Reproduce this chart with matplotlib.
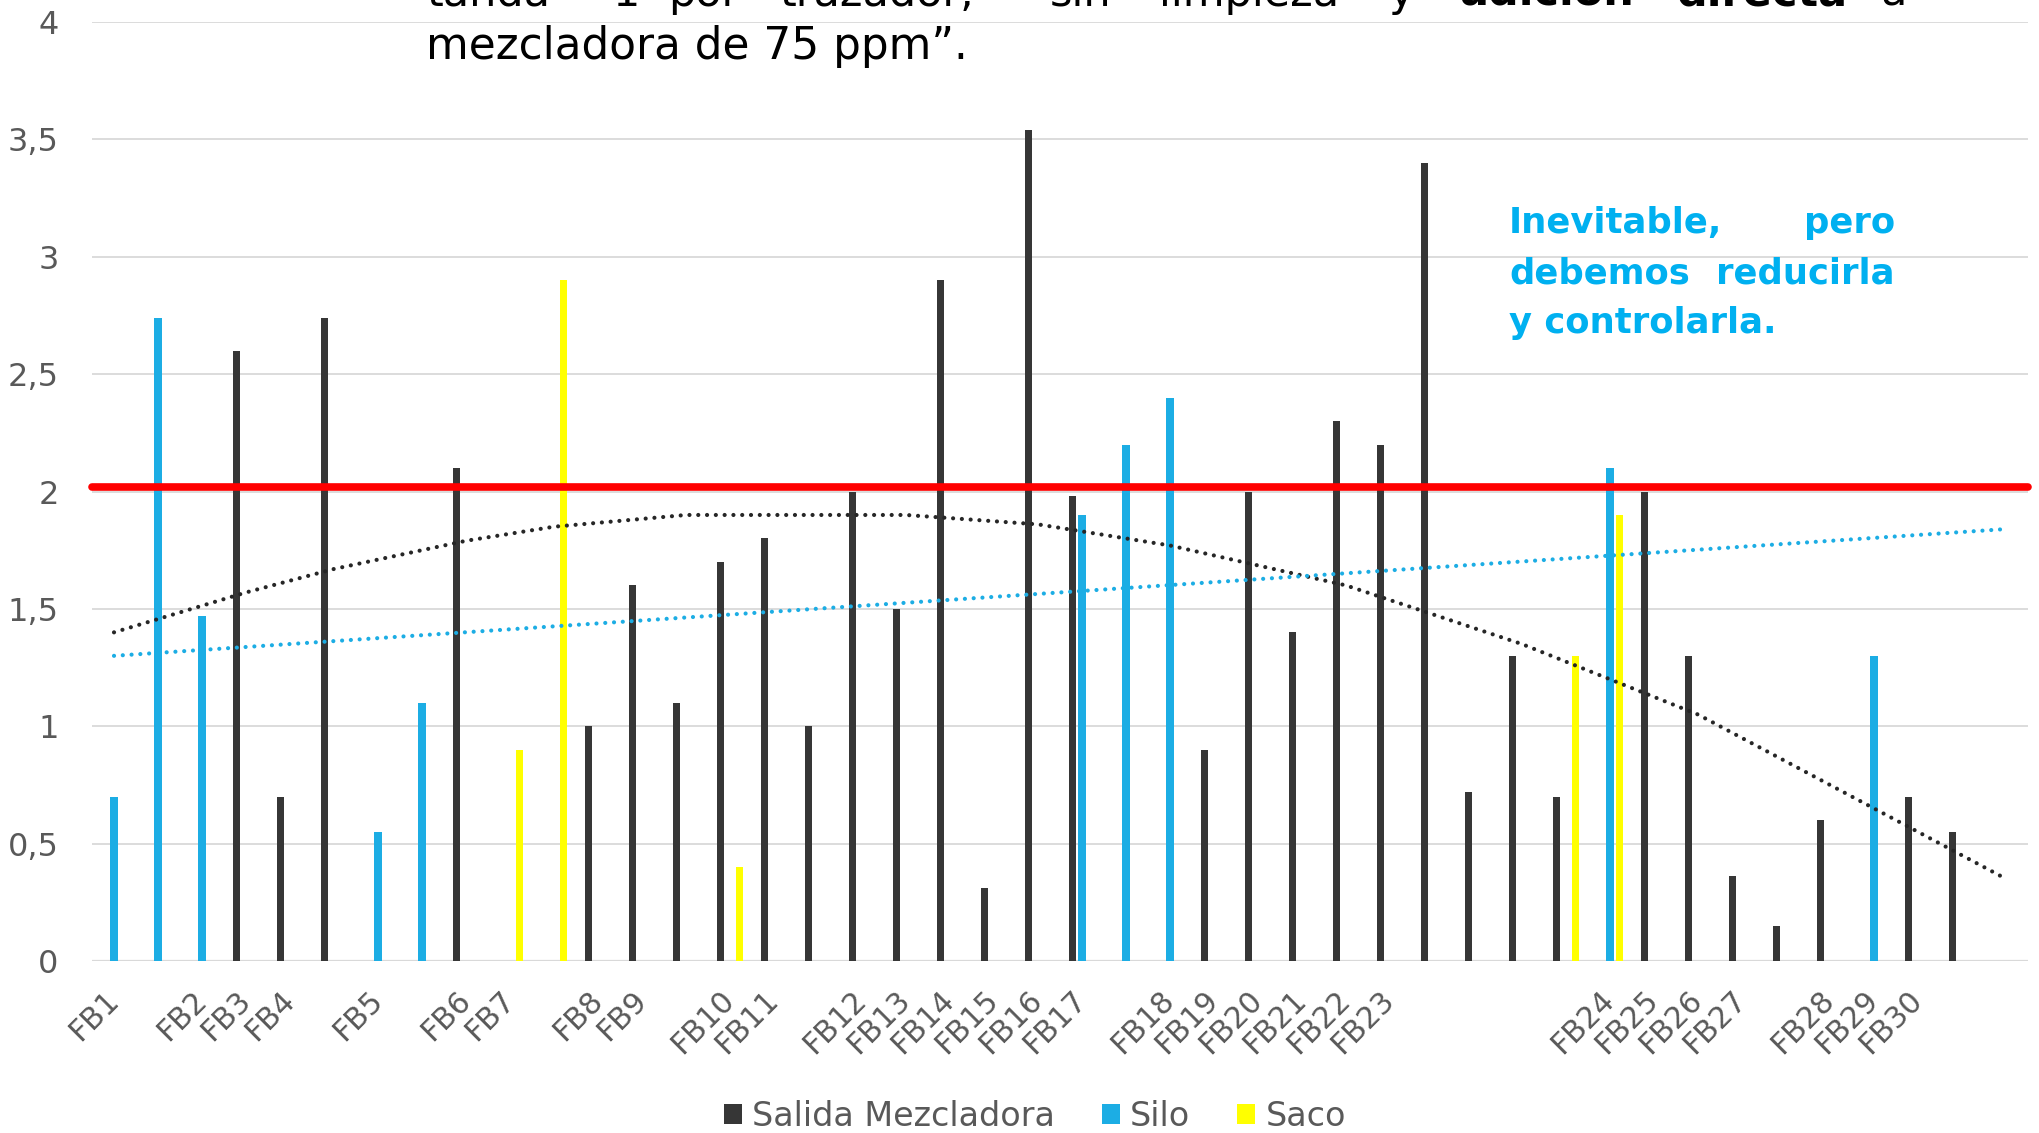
import numpy as np
import matplotlib
matplotlib.use("Agg")
import matplotlib.pyplot as plt
from matplotlib.patches import Patch
from matplotlib.ticker import FuncFormatter, MultipleLocator

nan = np.nan

# Category axis: 44 slots, only some of them carry a batch name
categorias = ['FB1', '', 'FB2', 'FB3', 'FB4', '', 'FB5', '', 'FB6', 'FB7', '',
              'FB8', 'FB9', '', 'FB10', 'FB11', '', 'FB12', 'FB13', 'FB14', 'FB15',
              'FB16', 'FB17', '', 'FB18', 'FB19', 'FB20', 'FB21', 'FB22', 'FB23',
              '', '', '', '', 'FB24', 'FB25', 'FB26', 'FB27', '', 'FB28', 'FB29',
              'FB30', '', '']

salida_mezcladora = [nan, nan, nan, 2.6, 0.7, 2.74, nan, nan, 2.1, nan, nan,
                     1.0, 1.6, 1.1, 1.7, 1.8, 1.0, 2.0, 1.5, 2.9, 0.31,
                     3.54, 1.98, nan, nan, 0.9, 2.0, 1.4, 2.3, 2.2,
                     3.4, 0.72, 1.3, 0.7, nan, 2.0, 1.3, 0.36, 0.15, 0.6, nan,
                     0.7, 0.55, nan]

silo = [0.7, 2.74, 1.47, nan, nan, nan, 0.55, 1.1, nan, nan, nan,
        nan, nan, nan, nan, nan, nan, nan, nan, nan, nan,
        nan, 1.9, 2.2, 2.4, nan, nan, nan, nan, nan,
        nan, nan, nan, nan, 2.1, nan, nan, nan, nan, nan, 1.3,
        nan, nan, nan]

saco = [nan, nan, nan, nan, nan, nan, nan, nan, nan, 0.9, 2.9,
        nan, nan, nan, 0.4, nan, nan, nan, nan, nan, nan,
        nan, nan, nan, nan, nan, nan, nan, nan, nan,
        nan, nan, nan, 1.3, 1.9, nan, nan, nan, nan, nan, nan,
        nan, nan, nan]

# Trend lines (polynomial for the mixer output, linear for the silo)
tend_salida_x = [0, 3, 5, 8, 10, 13, 18, 21, 24, 28, 32, 36, 40, 43]
tend_salida_y = [1.40, 1.57, 1.67, 1.79, 1.85, 1.90, 1.90, 1.86, 1.77, 1.60,
                 1.35, 1.05, 0.65, 0.35]
tend_silo_x = [0, 43]
tend_silo_y = [1.30, 1.84]

limite = 2.02

series = ['Salida Mezcladora', 'Silo', 'Saco']
colores = ['#363636', '#1CADE4', '#FFFF00']

GRIS = '#595959'
FUENTE = 'DejaVu Sans'
plt.rcParams['font.family'] = [FUENTE]

W, H = 2040, 1133
fig = plt.figure(figsize=(W / 100, H / 100), dpi=100)
ax = fig.add_axes([92 / W, 1 - 961 / H, 1936 / W, (961 - 22) / H])

x = np.arange(len(categorias))
ancho = 0.16
paso = 0.22
for k, (vals, col) in enumerate(zip([salida_mezcladora, silo, saco], colores)):
    ax.bar(x + (k - 1) * paso, vals, width=ancho, color=col, zorder=3,
           edgecolor='none')

punt = (0, (0.01, 2.1))
ax.plot(tend_salida_x, tend_salida_y, color='#262626', lw=3.0,
        linestyle=punt, dash_capstyle='round', zorder=4)
ax.plot(tend_silo_x, tend_silo_y, color='#1CADE4', lw=3.0,
        linestyle=punt, dash_capstyle='round', zorder=4)

ax.plot([-0.5, len(categorias) - 0.5], [limite, limite], color='#FF0000',
        lw=5.5, solid_capstyle='round', zorder=5, clip_on=False)

ax.set_xlim(-0.5, len(categorias) - 0.5)
ax.set_ylim(0, 4)
ax.yaxis.set_major_locator(MultipleLocator(0.5))
ax.yaxis.set_major_formatter(FuncFormatter(
    lambda v, p: ('%g' % v).replace('.', ',')))
ax.grid(axis='y', color='#D9D9D9', lw=1.3, zorder=0)
ax.set_axisbelow(True)
for s in ax.spines.values():
    s.set_visible(False)
ax.axhline(0, color='#D9D9D9', lw=1.6, zorder=2)

ax.set_xticks(x)
ax.set_xticklabels(categorias, rotation=45, ha='right', va='center',
                   rotation_mode='anchor')
ax.tick_params(axis='x', length=0, pad=25, labelsize=21.5, labelcolor=GRIS)
ax.tick_params(axis='y', length=0, pad=24, labelsize=23, labelcolor=GRIS)

handles = [Patch(facecolor=c, edgecolor='none', label=s)
           for s, c in zip(series, colores)]
leg = fig.legend(handles=handles, loc='center', ncol=3, frameon=False,
                 bbox_to_anchor=(1035 / W, 1 - 1116 / H), fontsize=24,
                 handlelength=0.55, handleheight=0.55, handletextpad=0.3,
                 columnspacing=1.4, borderaxespad=0)
for t in leg.get_texts():
    t.set_color(GRIS)


def ftext(px, py, s, **kw):
    fig.text(px / W, 1 - py / H, s, va='baseline', **kw)


# Paragraph above the plot (first line runs off the top edge)
linea1 = [('tanda', 427, 'normal'), ('1', 612, 'normal'), ('por', 668, 'normal'),
          ('trazador,', 780, 'normal'), ('sin', 1050, 'normal'),
          ('limpieza', 1159, 'normal'), ('y', 1389, 'normal'),
          ('adición', 1459, 'bold'), ('directa', 1676, 'bold'), ('a', 1880, 'normal')]
for palabra, px, peso in linea1:
    ftext(px, 6, palabra, fontsize=31, color='black', fontweight=peso)
ftext(426, 59, 'mezcladora de 75 ppm\u201d.', fontsize=31.5, color='black')

# Blue note
AZUL = '#00B0F0'
kw = dict(fontsize=25.5, color=AZUL, fontweight='bold')
ftext(1509, 233, 'Inevitable,', **kw)
ftext(1895, 233, 'pero', ha='right', **kw)
ftext(1509, 283, 'debemos', **kw)
ftext(1895, 283, 'reducirla', ha='right', **kw)
ftext(1509, 333, 'y controlarla.', **kw)

fig.savefig('out.png', dpi=100)
